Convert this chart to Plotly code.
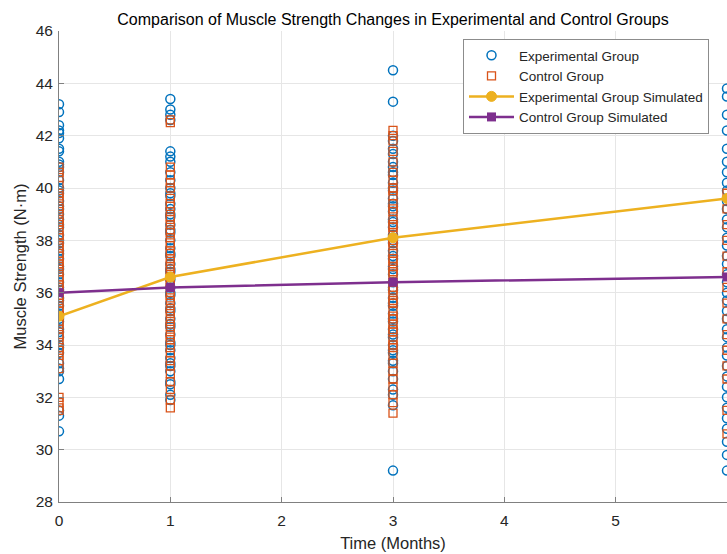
import plotly.graph_objects as go

# ---- data ----
time_points = [0, 1, 3, 6]

exp_t0 = [43.2, 42.9, 42.4, 42.2, 42.1, 41.9, 41.5, 41.4, 41.0, 40.9, 40.8, 40.6, 40.3, 40.0,
          39.8, 39.5, 39.2, 39.0, 38.8, 38.5, 38.2, 37.9, 37.6, 37.3, 37.0, 36.7, 36.4, 36.1,
          35.8, 35.5, 35.2, 34.9, 34.6, 34.3, 34.0, 33.7, 33.3, 33.1, 33.0, 32.7, 31.5, 31.3, 30.7,
          39.9, 39.3, 38.6, 38.0, 37.5, 36.9, 36.2, 35.7, 35.0, 34.5, 33.9]
exp_t1 = [43.4, 43.0, 42.8, 42.6, 41.4, 41.2, 41.0, 40.6, 40.3, 40.0, 39.7, 39.4, 39.2, 38.9,
          38.6, 38.3, 38.0, 37.7, 37.4, 37.1, 36.8, 36.5, 36.2, 35.9, 35.6, 35.3, 35.0, 34.7,
          34.4, 34.1, 33.8, 33.5, 33.2, 33.0, 32.6, 32.5, 32.1, 31.9,
          39.8, 39.0, 38.4, 37.5, 36.9, 36.0, 35.4, 34.8, 34.0, 33.3]
exp_t3 = [44.5, 43.3, 42.0, 41.8, 41.5, 41.3, 41.0, 40.8, 40.5, 40.2, 39.9, 39.6, 39.3, 39.1,
          38.8, 38.5, 38.2, 37.9, 37.6, 37.3, 37.0, 36.7, 36.4, 36.1, 35.8, 35.5, 35.2, 34.9,
          34.6, 34.3, 34.0, 33.7, 33.4, 33.3, 33.0, 32.7, 32.3, 32.1, 31.7, 29.2,
          40.6, 40.0, 39.4, 38.7, 38.0, 37.4, 36.9, 36.2, 35.6, 35.0, 34.4, 33.8]
exp_t6 = [43.8, 43.5, 42.8, 42.2, 41.5, 41.0, 40.6, 40.2, 39.9, 39.5, 39.2, 38.8, 38.5, 38.1,
          37.8, 37.4, 37.1, 36.7, 36.4, 36.0, 35.7, 35.3, 35.0, 34.6, 34.3, 33.9, 33.6, 33.2,
          32.8, 32.4, 32.0, 31.6, 31.2, 30.8, 30.3, 29.8, 29.2]

ctrl_t0 = [40.8, 40.6, 40.4, 40.1, 39.8, 39.6, 39.3, 39.1, 38.8, 38.6, 38.4, 38.1, 37.9, 37.7,
           37.5, 37.2, 37.0, 36.8, 36.5, 36.3, 36.1, 35.9, 35.6, 35.4, 35.1, 34.9, 34.6, 34.4,
           34.1, 33.9, 33.6, 33.4, 33.1, 32.0, 31.8, 31.6, 31.5,
           39.7, 39.2, 38.7, 38.2, 37.8, 37.4, 37.1, 36.6, 36.2, 35.8, 35.3, 34.8, 34.3, 33.8]
ctrl_t1 = [42.6, 42.5, 40.8, 40.5, 40.2, 40.0, 39.6, 39.4, 39.1, 38.8, 38.6, 38.3, 38.1, 37.8,
           37.6, 37.3, 37.1, 36.9, 36.6, 36.4, 36.2, 35.9, 35.7, 35.4, 35.2, 34.9, 34.7, 34.4,
           34.2, 33.9, 33.7, 33.4, 33.2, 32.9, 32.6, 32.3, 31.9, 31.6,
           39.3, 38.9, 38.4, 37.9, 37.5, 37.0, 36.7, 36.3, 35.8, 35.3, 34.8, 34.3]
ctrl_t3 = [42.2, 42.0, 41.8, 41.4, 41.0, 40.6, 40.3, 40.0, 39.7, 39.4, 39.1, 38.8, 38.6, 38.3,
           38.0, 37.8, 37.5, 37.2, 37.0, 36.7, 36.4, 36.1, 35.9, 35.6, 35.3, 35.0, 34.8, 34.5,
           34.2, 33.9, 33.6, 33.3, 33.0, 32.7, 32.4, 32.1, 31.8, 31.4,
           39.9, 39.2, 38.5, 37.9, 37.3, 36.8, 36.2, 35.7, 35.1, 34.6, 34.0]
ctrl_t6 = [39.8, 39.2, 38.6, 38.0, 37.4, 36.8, 36.2, 35.6, 35.0, 34.4, 33.8, 33.2, 32.7, 31.5, 30.6]

exp_sim = [35.1, 36.6, 38.1, 39.6]
ctrl_sim = [36.0, 36.2, 36.4, 36.6]

exp_groups = [exp_t0, exp_t1, exp_t3, exp_t6]
ctrl_groups = [ctrl_t0, ctrl_t1, ctrl_t3, ctrl_t6]

exp_x, exp_y, ctrl_x, ctrl_y = [], [], [], []
for t, vals in zip(time_points, exp_groups):
    exp_x += [t] * len(vals)
    exp_y += vals
for t, vals in zip(time_points, ctrl_groups):
    ctrl_x += [t] * len(vals)
    ctrl_y += vals

BLUE = "#0072BD"
ORANGE = "#D95319"
YELLOW = "#EDB120"
PURPLE = "#7E2F8E"
FONT = "Liberation Sans, Arial, sans-serif"
TXT = "#262626"

W, H = 727, 554

fig = go.Figure()
fig.add_trace(go.Scatter(x=exp_x, y=exp_y, mode="markers", name="Experimental Group",
                         marker=dict(symbol="circle-open", size=9, color=BLUE, line=dict(width=1.5))))
fig.add_trace(go.Scatter(x=ctrl_x, y=ctrl_y, mode="markers", name="Control Group",
                         marker=dict(symbol="square-open", size=8, color=ORANGE, line=dict(width=1.3))))
fig.add_trace(go.Scatter(x=time_points, y=exp_sim, mode="lines+markers", name="Experimental Group Simulated",
                         line=dict(color=YELLOW, width=2.5),
                         marker=dict(symbol="circle", size=10, color=YELLOW,
                                     line=dict(color=YELLOW, width=1))))
fig.add_trace(go.Scatter(x=time_points, y=ctrl_sim, mode="lines+markers", name="Control Group Simulated",
                         line=dict(color=PURPLE, width=2.5),
                         marker=dict(symbol="square", size=9, color=PURPLE)))

fig.update_layout(
    width=W, height=H,
    margin=dict(l=59, r=0, t=31, b=52),
    paper_bgcolor="white", plot_bgcolor="white",
    font=dict(family=FONT, color=TXT, size=15),
    title=dict(text="Comparison of Muscle Strength Changes in Experimental and Control Groups",
               x=0.5, xref="paper", xanchor="center",
               y=1 - 19 / H, yref="container", yanchor="middle",
               font=dict(size=16, color="#000000")),
    showlegend=True,
    legend=dict(x=(463 - 59) / 668, y=(502 - 39) / 471, xanchor="left", yanchor="top",
                bgcolor="white", bordercolor="#8c8c8c", borderwidth=1,
                font=dict(size=13.5, color=TXT), tracegroupgap=0,
                itemwidth=45),
    xaxis=dict(range=[0, 6], tickvals=[0, 1, 2, 3, 4, 5], showgrid=True, automargin=False,
               gridcolor="#e6e6e6", gridwidth=1, zeroline=False,
               showline=True, linecolor="#808080", linewidth=1,
               ticks="inside", ticklen=5, tickcolor="#808080",
               ticklabelstandoff=4,
               tickfont=dict(size=15.5, color=TXT),
               title=dict(text="Time (Months)", font=dict(size=16.5, color=TXT), standoff=9)),
    yaxis=dict(range=[28, 46], dtick=2, showgrid=True, automargin=False,
               gridcolor="#e6e6e6", gridwidth=1, zeroline=False,
               showline=True, linecolor="#808080", linewidth=1,
               ticks="inside", ticklen=5, tickcolor="#808080",
               ticklabelstandoff=2,
               tickfont=dict(size=15.5, color=TXT),
               title=dict(text="Muscle Strength (N·m)", font=dict(size=16.5, color=TXT), standoff=4)),
)

fig.write_html("out.html", config={"displayModeBar": False},
               post_script="document.body.style.margin='0';")
